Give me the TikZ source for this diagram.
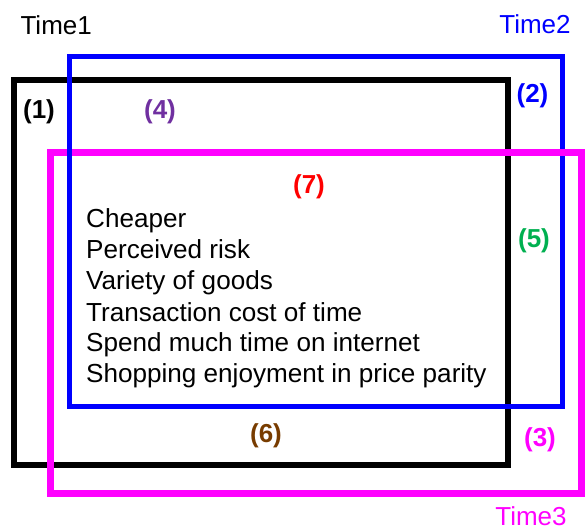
\documentclass[tikz,border=0pt]{standalone}
\usepackage{fontspec}
\setmainfont{Liberation Sans}
\definecolor{tone1}{RGB}{0,0,0}
\definecolor{tone2}{RGB}{0,0,255}
\definecolor{tone3}{RGB}{255,0,255}
\definecolor{tone4}{RGB}{112,48,160}
\definecolor{tone5}{RGB}{0,176,80}
\definecolor{tone6}{RGB}{120,60,0}
\definecolor{tone7}{RGB}{255,0,0}
\tikzset{
  frame/.style={line width=#1, line join=miter},
  timelabel/.style={font=\fontsize{26}{31}\selectfont, inner sep=0pt, anchor=base},
  region/.style={font=\fontsize{26}{31}\selectfont\bfseries, inner sep=0pt, anchor=center},
  item/.style={font=\fontsize{26.1}{31}\selectfont, inner sep=0pt, anchor=base west, text=black}
}
\begin{document}
\begin{tikzpicture}[x=1pt,y=-1pt]
\useasboundingbox (0,0) rectangle (586,529);
% Time1 frame (black)
\draw[frame=6pt, tone1] (14.3,80) rectangle (508,464.7);
% Time3 frame (magenta)
\draw[frame=7pt, tone3] (50,152.7) rectangle (581,493);
% Time2 frame (blue)
\draw[frame=5.5pt, tone2] (69.5,56.5) rectangle (562.7,406.7);
% magenta passes over blue at the upper right crossing
\begin{scope}
  \clip (540,140) rectangle (586,170);
  \draw[frame=7pt, tone3] (50,152.7) rectangle (581,493);
\end{scope}

\node[timelabel, text=black] (t1) at (56.2,35) {Time1};
\node[timelabel, text=tone2] (t2) at (535,33.3) {Time2};
\node[timelabel, text=tone3] (t3) at (531,525) {Time3};

\node[region, text=tone1] (r1) at (39,111.5) {(1)};
\node[region, text=tone4] (r4) at (160,111.5) {(4)};
\node[region, text=tone2] (r2) at (532.5,96) {(2)};
\node[region, text=tone7] (r7) at (309,187) {(7)};
\node[region, text=tone5] (r5) at (534,241) {(5)};
\node[region, text=tone6] (r6) at (266,436) {(6)};
\node[region, text=tone3] (r3) at (540,439.5) {(3)};

\node[item] (i1) at (86,228) {Cheaper};
\node[item] (i2) at (86,259) {Perceived risk};
\node[item] (i3) at (86,290) {Variety of goods};
\node[item] (i4) at (86,321) {Transaction cost of time};
\node[item] (i5) at (86,351.5) {Spend much time on internet};
\node[item] (i6) at (86,382) {Shopping enjoyment in price parity};
\end{tikzpicture}
\end{document}
